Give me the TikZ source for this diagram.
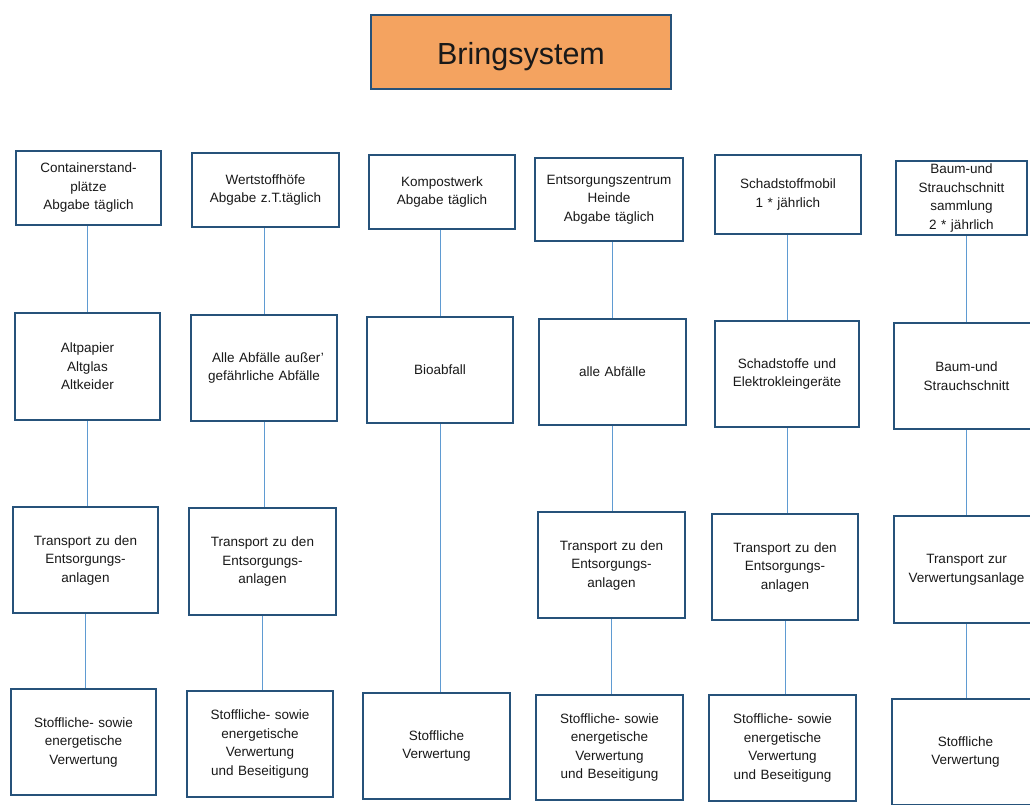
\documentclass[tikz,border=0pt]{standalone}
\usepackage{fontspec}
\setmainfont{Liberation Sans}
\definecolor{bord}{RGB}{38,82,122}
\definecolor{conn}{RGB}{95,155,210}
\definecolor{titlefill}{RGB}{244,163,96}
\definecolor{txt}{RGB}{25,25,25}
\begin{document}
\begin{tikzpicture}[x=1pt,y=-1pt,
  box/.style={draw=bord,line width=2.6pt,fill=white,inner sep=0pt,align=center,
    text=txt,font=\fontsize{13.5}{18.5}\selectfont},
  titlebox/.style={draw=bord,line width=2.6pt,fill=titlefill,inner sep=0pt,
    text=txt,font=\fontsize{30.5}{34}\selectfont,minimum width=300pt,minimum height=74pt},
  conline/.style={draw=conn,line width=1pt}]
\useasboundingbox (0,0) rectangle (1030,804);
\fill[white] (0,0) rectangle (1030,804);

\node[titlebox] (title) at (521,52) {\raisebox{-12pt}[0pt][0pt]{Bringsystem}};

% row 1
\node[box,minimum width=145pt,minimum height=74pt,text width=135pt] (r1c1) at (88.5,188) {Containerstand-\\plätze\\Abgabe täglich};
\node[box,minimum width=147pt,minimum height=74pt,text width=137pt] (r1c2) at (265.5,190) {Wertstoffhöfe\\Abgabe z.T.täglich};
\node[box,minimum width=146pt,minimum height=74pt,text width=136pt] (r1c3) at (442,192) {Kompostwerk\\Abgabe täglich};
\node[box,minimum width=148pt,minimum height=83pt,text width=138pt] (r1c4) at (609,199.5) {Entsorgungszentrum\\Heinde\\Abgabe täglich};
\node[box,minimum width=146pt,minimum height=79pt,text width=136pt] (r1c5) at (788,194.5) {Schadstoffmobil\\1 * jährlich};
\node[box,minimum width=131pt,minimum height=74pt,text width=121pt] (r1c6) at (961.5,198) {Baum-und\\Strauchschnitt\\sammlung\\2 * jährlich};

% row 2
\node[box,minimum width=145pt,minimum height=107pt,text width=135pt] (r2c1) at (87.5,366.5) {Altpapier\\Altglas\\Altkeider};
\node[box,minimum width=146pt,minimum height=106pt,text width=140pt] (r2c2) at (264,368) {\hspace*{8pt}Alle Abfälle außer'\\gefährliche Abfälle};
\node[box,minimum width=146pt,minimum height=106pt,text width=136pt] (r2c3) at (440,370) {Bioabfall};
\node[box,minimum width=147pt,minimum height=106pt,text width=137pt] (r2c4) at (612.5,372) {alle Abfälle};
\node[box,minimum width=144pt,minimum height=106pt,text width=134pt] (r2c5) at (787,374) {Schadstoffe und\\Elektrokleingeräte};
\node[box,minimum width=145pt,minimum height=106pt,text width=135pt] (r2c6) at (966.5,376) {Baum-und\\Strauchschnitt};

% row 3
\node[box,minimum width=145pt,minimum height=106pt,text width=135pt] (r3c1) at (85.5,560) {Transport zu den\\Entsorgungs-\\anlagen};
\node[box,minimum width=147pt,minimum height=107pt,text width=137pt] (r3c2) at (262.5,561.5) {Transport zu den\\Entsorgungs-\\anlagen\\[14pt]};
\node[box,minimum width=147pt,minimum height=106pt,text width=137pt] (r3c4) at (611.5,565) {Transport zu den\\Entsorgungs-\\anlagen};
\node[box,minimum width=146pt,minimum height=106pt,text width=136pt] (r3c5) at (785,567) {Transport zu den\\Entsorgungs-\\anlagen};
\node[box,minimum width=145pt,minimum height=107pt,text width=135pt] (r3c6) at (966.5,569.5) {Transport zur\\Verwertungsanlage};

% row 4
\node[box,minimum width=145pt,minimum height=106pt,text width=135pt] (r4c1) at (83.5,742) {Stoffliche- sowie\\energetische\\Verwertung};
\node[box,minimum width=146pt,minimum height=106pt,text width=136pt] (r4c2) at (260,744) {Stoffliche- sowie\\energetische\\Verwertung\\und Beseitigung};
\node[box,minimum width=147pt,minimum height=106pt,text width=137pt] (r4c3) at (436.5,746) {Stoffliche\\Verwertung};
\node[box,minimum width=147pt,minimum height=105pt,text width=137pt] (r4c4) at (609.5,747.5) {Stoffliche- sowie\\energetische\\Verwertung\\und Beseitigung};
\node[box,minimum width=147pt,minimum height=106pt,text width=137pt] (r4c5) at (782.5,748) {Stoffliche- sowie\\energetische\\Verwertung\\und Beseitigung};
\node[box,minimum width=147pt,minimum height=106pt,text width=137pt] (r4c6) at (965.5,752) {Stoffliche\\Verwertung};

% connectors
\foreach \c in {1,2,3,4,5,6}{
  \draw[conline] (r2c\c.north |- r1c\c.south) -- (r2c\c.north);
}
\foreach \c in {1,2,4,5,6}{
  \draw[conline] (r2c\c.south) -- (r2c\c.south |- r3c\c.north);
  \draw[conline] (r3c\c.south) -- (r3c\c.south |- r4c\c.north);
}
\draw[conline] (r2c3.south) -- (r2c3.south |- r4c3.north);
\end{tikzpicture}
\end{document}
